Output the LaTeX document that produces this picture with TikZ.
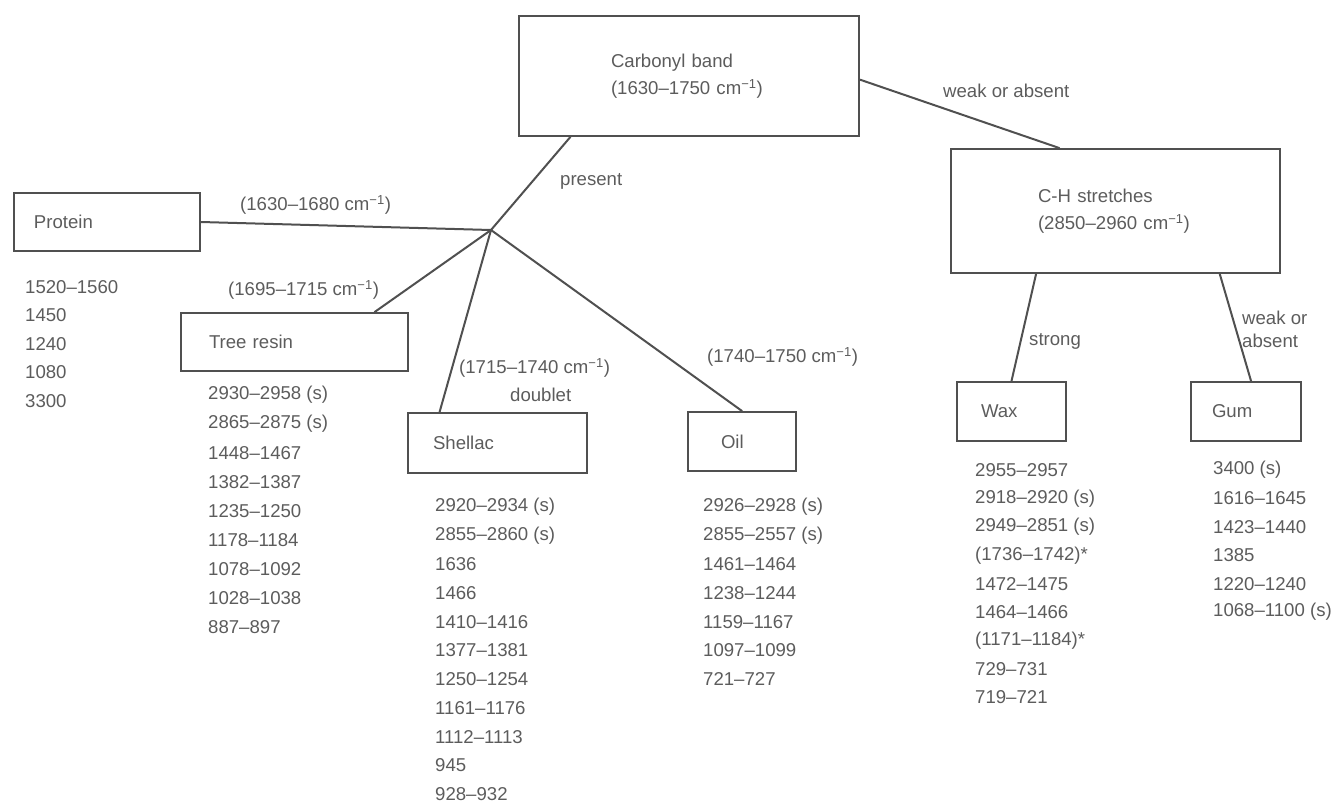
\documentclass[tikz,border=0pt]{standalone}
\usepackage{fontspec}
\setmainfont{Liberation Sans}
\usetikzlibrary{calc}
\definecolor{ink}{RGB}{92,92,92}
\definecolor{edge}{RGB}{80,80,80}
\tikzset{
  box/.style={draw=edge, line width=2pt, anchor=north west, align=left, inner ysep=0pt},
  val/.style={anchor=west, inner sep=0pt},
  link/.style={draw=edge, line width=2pt, line cap=round},
}
\begin{document}
\begin{tikzpicture}[x=1pt, y=-1pt, every node/.style={text=ink, font=\fontsize{18.6}{27}\selectfont}]
				\useasboundingbox (0,0) rectangle (1336,804);
				
				% boxes
				\node[box, text width=156pt, inner xsep=92pt, minimum height=120pt] (carbonyl) at (518,15) {Carbonyl band\\(1630–1750 cm\textsuperscript{−1})};
				\node[box, text width=146pt, inner xsep=20pt, minimum height=58pt] (protein) at (13,192) {Protein};
				\node[box, text width=171pt, inner xsep=28pt, minimum height=58pt] (tree) at (180,312) {Tree resin};
				\node[box, text width=129pt, inner xsep=25pt, minimum height=60pt] (shellac) at (407,412) {Shellac};
				\node[box, text width=42pt, inner xsep=33pt, minimum height=59pt] (oil) at (687,411) {Oil};
				\node[box, text width=155pt, inner xsep=87pt, minimum height=124pt] (chstretch) at (950,148) {C-H stretches\\(2850–2960 cm\textsuperscript{−1})};
				\node[box, text width=61pt, inner xsep=24pt, minimum height=59pt] (wax) at (956,381) {Wax};
				\node[box, text width=68pt, inner xsep=21pt, minimum height=59pt] (gum) at (1190,381) {Gum};
				
				\coordinate (fork) at (491,230);
				
				% connectors
				\draw[link] ($(carbonyl.south west)!0.153!(carbonyl.south east)$) -- (fork);
				\draw[link] (protein.east) -- (fork);
				\draw[link] ($(tree.north west)!0.85!(tree.north east)$) -- (fork);
				\draw[link] ($(shellac.north west)!0.18!(shellac.north east)$) -- (fork);
				\draw[link] (oil.north) -- (fork);
				\draw[link] ($(carbonyl.north east)!0.53!(carbonyl.south east)$) -- ($(chstretch.north west)!0.33!(chstretch.north east)$);
				\draw[link] ($(chstretch.south west)!0.26!(chstretch.south east)$) -- (wax.north);
				\draw[link] ($(chstretch.south west)!0.815!(chstretch.south east)$) -- ($(gum.north west)!0.545!(gum.north east)$);
				
				% branch labels
				\node[val] (present) at (560,181) {present};
				\node[val] (weakabsent) at (943,91) {weak or absent};
				\node[val] (protband) at (240,205) {(1630–1680 cm\textsuperscript{−1})};
				\node[val] (treeband) at (228,290) {(1695–1715 cm\textsuperscript{−1})};
				\node[val] (shelband) at (459,368) {(1715–1740 cm\textsuperscript{−1})};
				\node[val] (doublet) at (510,395) {doublet};
				\node[val] (oilband) at (707,357) {(1740–1750 cm\textsuperscript{−1})};
				\node[val] (strong) at (1029,341) {strong};
				\node[val, align=left, font=\fontsize{18.6}{23}\selectfont] (weakor) at (1242,329.5) {weak or\\absent};
				
				% band lists
				\foreach \v [count=\i from 0] in {1520–1560, 1450, 1240, 1080, 3300}
					\node[val] (prot\i) at (25, 287+28.5*\i) {\v};
				\foreach \v [count=\i from 0] in {2930–2958 (s), 2865–2875 (s), 1448–1467, 1382–1387, 1235–1250, 1178–1184, 1078–1092, 1028–1038, 887–897}
					\node[val] (tree\i) at (208, 395+29*\i) {\v};
				\foreach \v [count=\i from 0] in {2920–2934 (s), 2855–2860 (s), 1636, 1466, 1410–1416, 1377–1381, 1250–1254, 1161–1176, 1112–1113, 945, 928–932}
					\node[val] (shel\i) at (435, 507+28.7*\i) {\v};
				\foreach \v [count=\i from 0] in {2926–2928 (s), 2855–2557 (s), 1461–1464, 1238–1244, 1159–1167, 1097–1099, 721–727}
					\node[val] (oil\i) at (703, 507+28.7*\i) {\v};
				\foreach \v [count=\i from 0] in {2955–2957, 2918–2920 (s), 2949–2851 (s), {(1736–1742)*}, 1472–1475, 1464–1466, {(1171–1184)*}, 729–731, 719–721}
					\node[val] (wax\i) at (975, 470+28.4*\i) {\v};
				\foreach \v [count=\i from 0] in {3400 (s), 1616–1645, 1423–1440, 1385, 1220–1240, 1068–1100 (s)}
					\node[val] (gum\i) at (1213, 470+28.4*\i) {\v};
			\end{tikzpicture}
\end{document}
